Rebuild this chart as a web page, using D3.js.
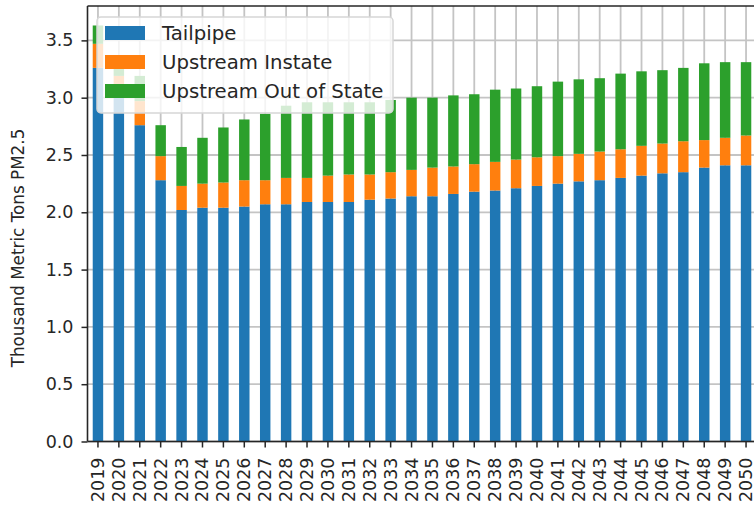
<!DOCTYPE html>
<html>
<head>
<meta charset="utf-8">
<script src="https://cdn.jsdelivr.net/npm/d3@7"></script>
<style>
  html, body { margin: 0; padding: 0; background: #fff; }
  svg { display: block; font-family: "DejaVu Sans", sans-serif; }
</style>
</head>
<body>
<svg id="chart" width="754" height="511"></svg>
<script>
const years = d3.range(2019, 2051).map(String);
const seriesNames = ["Tailpipe", "Upstream Instate", "Upstream Out of State"];
const tailpipe = [3.26,3.12,2.76,2.28,2.02,2.04,2.04,2.05,2.07,2.07,2.09,2.09,2.09,2.11,2.12,2.14,2.14,2.16,2.18,2.19,2.21,2.23,2.25,2.27,2.28,2.30,2.32,2.34,2.35,2.39,2.41,2.41];
const upstreamInstate = [0.21,0.07,0.21,0.21,0.21,0.21,0.22,0.23,0.21,0.23,0.21,0.23,0.24,0.22,0.23,0.23,0.25,0.24,0.24,0.25,0.25,0.25,0.24,0.24,0.25,0.25,0.26,0.26,0.27,0.24,0.24,0.26];
const upstreamOutOfState = [0.16,0.06,0.22,0.27,0.34,0.40,0.48,0.53,0.58,0.63,0.66,0.64,0.63,0.63,0.63,0.63,0.61,0.62,0.61,0.63,0.62,0.62,0.65,0.65,0.64,0.66,0.65,0.64,0.64,0.67,0.66,0.64];
const yTicks = [0, 0.5, 1.0, 1.5, 2.0, 2.5, 3.0, 3.5];
const colors = ["#1f77b4", "#ff7f0e", "#2ca02c"];

const rows = years.map((yr, i) => ({
  year: yr,
  "Tailpipe": tailpipe[i],
  "Upstream Instate": upstreamInstate[i],
  "Upstream Out of State": upstreamOutOfState[i]
}));

const svg = d3.select("#chart");
const mLeft = 87.5, mBottom = 441.5, mTop = 6, mRight = 756.5;

const x = d3.scaleBand().domain(years).range([mLeft, mRight]).paddingInner(0.5).paddingOuter(0.25);
const y = d3.scaleLinear().domain([0, 3.8]).range([mBottom, mTop]);

// grid
const grid = svg.append("g");
grid.selectAll("line.v").data(years).join("line")
  .attr("x1", d => x(d) + x.bandwidth() / 2).attr("x2", d => x(d) + x.bandwidth() / 2)
  .attr("y1", mTop).attr("y2", mBottom)
  .attr("stroke", "#c4c4c4").attr("stroke-width", 1.8);
grid.selectAll("line.h").data(yTicks).join("line")
  .attr("x1", mLeft).attr("x2", mRight)
  .attr("y1", d => y(d)).attr("y2", d => y(d))
  .attr("stroke", "#c4c4c4").attr("stroke-width", 1.8);

// bars
const stacked = d3.stack().keys(seriesNames)(rows);
svg.append("g").selectAll("g").data(stacked).join("g")
  .attr("fill", (d, i) => colors[i])
  .selectAll("rect").data(d => d).join("rect")
  .attr("x", d => x(d.data.year))
  .attr("width", x.bandwidth())
  .attr("y", d => y(d[1]))
  .attr("height", d => y(d[0]) - y(d[1]));

// axes
const yAxis = d3.axisLeft(y).tickValues(yTicks).tickFormat(d3.format(".1f")).tickSize(6).tickPadding(8);
const gy = svg.append("g").attr("transform", `translate(${mLeft},0)`).call(yAxis);
gy.select(".domain").remove();
gy.selectAll(".tick line").attr("stroke", "#262626").attr("stroke-width", 1.5);
gy.selectAll(".tick text").attr("font-size", "17.5px").attr("fill", "#262626")
  .attr("font-family", "DejaVu Sans");

const xAxis = d3.axisBottom(x).tickSize(6).tickPadding(0);
const gx = svg.append("g").attr("transform", `translate(0,${mBottom})`).call(xAxis);
gx.select(".domain").remove();
gx.selectAll(".tick line").attr("stroke", "#262626").attr("stroke-width", 1.5);
gx.selectAll(".tick text")
  .attr("font-size", "17.5px").attr("fill", "#262626").attr("font-family", "DejaVu Sans")
  .attr("text-anchor", "end")
  .attr("dy", null)
  .attr("dominant-baseline", "central")
  .attr("transform", "translate(0,16) rotate(-90)")
  .attr("y", 0).attr("x", 0);

// spines
const sp = svg.append("g").attr("stroke", "#262626").attr("stroke-width", 1.6);
sp.append("line").attr("x1", mLeft).attr("x2", mLeft).attr("y1", mTop).attr("y2", mBottom);
sp.append("line").attr("x1", mLeft).attr("x2", mRight).attr("y1", mBottom).attr("y2", mBottom);
sp.append("line").attr("x1", mLeft).attr("x2", mRight).attr("y1", mTop).attr("y2", mTop);

// y label
svg.append("text")
  .attr("transform", "translate(18,248) rotate(-90)")
  .attr("text-anchor", "middle").attr("dominant-baseline", "central")
  .attr("font-size", "16.8px").attr("fill", "#262626")
  .text("Thousand Metric Tons PM2.5");

// legend
const lg = svg.append("g");
lg.append("rect").attr("x", 97).attr("y", 17).attr("width", 296).attr("height", 96)
  .attr("rx", 4).attr("fill", "#fff").attr("fill-opacity", 0.8)
  .attr("stroke", "#d6d6d6").attr("stroke-width", 1.5);
const items = lg.selectAll("g.item").data(seriesNames).join("g")
  .attr("transform", (d, i) => `translate(0,${33 + i * 29})`);
items.append("rect").attr("x", 105).attr("y", -7).attr("width", 40).attr("height", 14)
  .attr("fill", (d, i) => colors[i]);
items.append("text").attr("x", 162).attr("y", 0).attr("dominant-baseline", "central")
  .attr("font-size", "19.7px").attr("fill", "#262626").text(d => d);
</script>
</body>
</html>
